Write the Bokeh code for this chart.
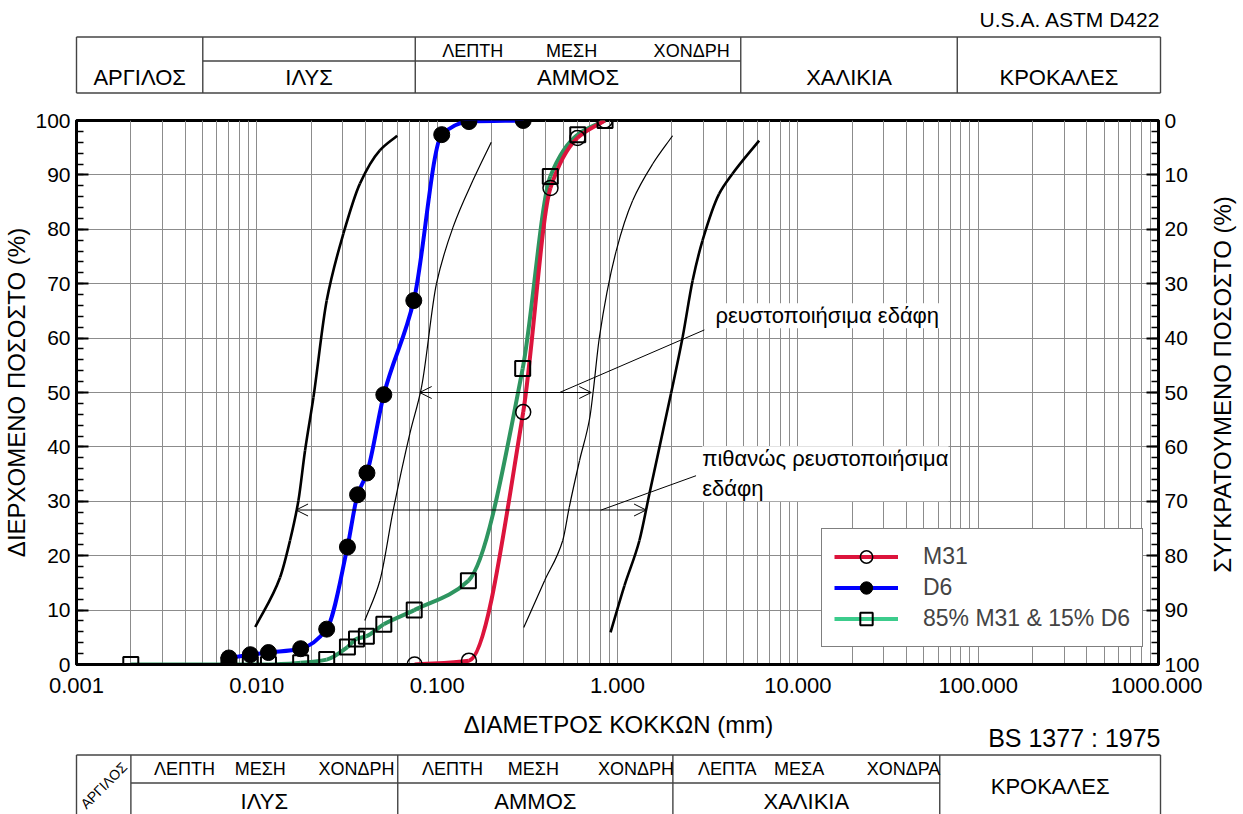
import math
import numpy as np
from bokeh.plotting import figure
from bokeh.layouts import column, row
from bokeh.models import (Range1d, LinearAxis, FixedTicker, PrintfTickFormatter,
                          Legend, LegendItem, Label, Arrow, OpenHead)
from bokeh.core.properties import value
from bokeh.embed import file_html
from bokeh.resources import INLINE

FONT = "Liberation Sans"

# ---------------- data ----------------
m31_d = [0.075, 0.150, 0.300, 0.425, 0.600, 0.850]
m31_p = [0.0, 0.7, 46.4, 87.6, 96.8, 100.0]

d6_d = [0.0070, 0.0092, 0.0116, 0.0175, 0.0244, 0.0318, 0.0362, 0.0408,
        0.0506, 0.0742, 0.106, 0.150, 0.300]
d6_p = [1.2, 1.8, 2.2, 2.9, 6.5, 21.6, 31.2, 35.2, 49.6, 66.9, 97.4, 99.8, 100.0]

mix_d = [0.002, 0.0070, 0.0092, 0.0116, 0.0175, 0.0244, 0.0318, 0.0357, 0.0405,
         0.0506, 0.0746, 0.149, 0.298, 0.424, 0.602, 0.853]
mix_p = [0.0, 0.0, 0.0, 0.0, 0.3, 0.9, 3.2, 4.7, 5.2, 7.4, 10.0, 15.4, 54.4,
         89.7, 97.4, 100.0]

# liquefaction boundary curves
thick_left_d = [0.0098, 0.01345, 0.01528, 0.0170, 0.0185, 0.0206, 0.0244, 0.0302,
                0.0373, 0.0481, 0.0600]
thick_left_p = [6.9, 16.0, 22.8, 30.1, 39.3, 49.1, 66.9, 79.2, 88.4, 94.5, 97.2]
thin_left_d = [0.0397, 0.0481, 0.0570, 0.0705, 0.0819, 0.0991, 0.1225, 0.158, 0.1995]
thin_left_p = [8.1, 15.4, 28.3, 42.4, 51.0, 70.0, 80.4, 89.0, 96.0]
thin_right_d = [0.302, 0.394, 0.497, 0.540, 0.616, 0.703, 0.732, 0.794, 0.983,
                1.214, 1.566, 2.02]
thin_right_p = [6.8, 15.4, 22.8, 28.9, 37.5, 45.5, 50.0, 60.2, 76.0, 85.3, 92.0, 97.2]
thick_right_d = [0.915, 1.093, 1.323, 1.503, 1.98, 2.298, 2.61, 2.96, 3.66, 4.34, 6.10]
thick_right_p = [5.9, 14.5, 22.8, 31.4, 49.8, 60.2, 70.6, 77.9, 86.5, 90.2, 96.3]

# annotation arrows (d_from, d_to, percent)
liq_arrow = (0.080, 0.715, 50.0)
poss_arrow = (0.0165, 1.44, 28.4)
liq_text = "ρευστοποιήσιμα εδάφη"
poss_text = "πιθανώς ρευστοποιήσιμα\nεδάφη"

x_ticks = [0.001, 0.01, 0.1, 1.0, 10.0, 100.0, 1000.0]
y_ticks = list(range(0, 101, 10))
y_minor = list(range(0, 101, 2))

x_title = "ΔΙΑΜΕΤΡΟΣ ΚΟΚΚΩΝ (mm)"
y_title = "ΔΙΕΡΧΟΜΕΝΟ ΠΟΣΟΣΤΟ (%)"
y2_title = "ΣΥΓΚΡΑΤΟΥΜΕΝΟ ΠΟΣΟΣΤΟ (%)"

# classification tables
astm_bounds = [0.001, 0.005, 0.075, 4.75, 75.0, 1000.0]
astm_main = ["ΑΡΓΙΛΟΣ", "ΙΛΥΣ", "ΑΜΜΟΣ", "ΧΑΛΙΚΙΑ", "ΚΡΟΚΑΛΕΣ"]
astm_sub = ["ΛΕΠΤΗ", "ΜΕΣΗ", "ΧΟΝΔΡΗ"]
astm_sub_d = [0.156, 0.55, 2.54]
bs_bounds = [0.001, 0.002, 0.06, 2.0, 60.0, 1000.0]
bs_main = ["ΙΛΥΣ", "ΑΜΜΟΣ", "ΧΑΛΙΚΙΑ"]
bs_sub = ["ΛΕΠΤΗ", "ΜΕΣΗ", "ΧΟΝΔΡΗ", "ΛΕΠΤΗ", "ΜΕΣΗ", "ΧΟΝΔΡΗ", "ΛΕΠΤΑ", "ΜΕΣΑ", "ΧΟΝΔΡΑ"]
bs_sub_d = [0.00396, 0.0104, 0.0355, 0.1206, 0.338, 1.25, 4.0, 10.0, 37.8]

RED = "#dc143c"
BLUE = "#0000ff"
GREEN = "#2e9560"
GREEN_LEG = "#3ccc8c"
GRID = "#8c8c8c"
TABLE = "#444444"

# ---------------- geometry (page pixels) ----------------
W = 1243
FL, FR = 76, 1160            # frame left / right
FT, FB = 120, 664            # frame top / bottom
TOP_H = 96                   # top table figure: 0..96
MAIN_BOT = 706               # main figure: 96..706
H_MAIN = MAIN_BOT - TOP_H
H_BOT = 814 - MAIN_BOT       # bottom figure: 706..814
PW = FR + 42                 # main figure width
PXDEC = (FR - FL) / 6.0
# table figures use the whole width as frame, same log mapping as the plot
XLO, XHI = 10 ** (-3 - FL / PXDEC), 10 ** (3 + (W - FR) / PXDEC)


def gmid(a, b):
    return math.sqrt(a * b)


def smooth_segments(xs, ys):
    lx = np.log10(np.asarray(xs, float))
    y = np.asarray(ys, float)
    h = np.diff(lx)
    d = np.diff(y) / h
    n = len(lx)
    m = np.zeros(n)
    m[0], m[-1] = d[0], d[-1]
    for i in range(1, n - 1):
        if d[i - 1] * d[i] <= 0:
            m[i] = 0.0
        else:
            w1 = 2 * h[i] + h[i - 1]
            w2 = h[i] + 2 * h[i - 1]
            m[i] = (w1 + w2) / (w1 / d[i - 1] + w2 / d[i])
    return dict(x0=10 ** lx[:-1], y0=y[:-1], x1=10 ** lx[1:], y1=y[1:],
                cx0=10 ** (lx[:-1] + h / 3), cy0=y[:-1] + m[:-1] * h / 3,
                cx1=10 ** (lx[1:] - h / 3), cy1=y[1:] - m[1:] * h / 3)


def blank_fig(width, height, xr, yr, log=False):
    f = figure(width=width, height=height, title=None, x_range=xr, y_range=yr,
               x_axis_type="log" if log else "linear",
               x_axis_location=None, y_axis_location=None,
               output_backend="svg", toolbar_location=None,
               min_border_left=0, min_border_right=0,
               min_border_top=0, min_border_bottom=0)
    f.grid.visible = False
    f.outline_line_color = None
    f.background_fill_color = "white"
    f.border_fill_color = "white"
    return f


# ---------------- main plot ----------------
p = figure(width=PW, height=H_MAIN, title=None, x_axis_type="log",
           x_range=Range1d(0.001, 1000), y_range=Range1d(0, 100),
           output_backend="svg", toolbar_location=None,
           min_border_left=FL, min_border_right=PW - FR,
           min_border_top=FT - TOP_H, min_border_bottom=MAIN_BOT - FB)
p.outline_line_color = "black"
p.outline_line_width = 3
p.background_fill_color = "white"
p.border_fill_color = "white"

minor_x = [k * 10.0 ** e for e in range(-3, 3) for k in range(2, 10)]
p.xaxis.ticker = FixedTicker(ticks=x_ticks, minor_ticks=minor_x)
p.xaxis.formatter = PrintfTickFormatter(format="%.3f")
p.yaxis.ticker = FixedTicker(ticks=y_ticks, minor_ticks=y_minor)

p.xgrid.grid_line_color = GRID
p.xgrid.minor_grid_line_color = GRID
p.ygrid.grid_line_color = GRID

p.extra_y_ranges = {"ret": Range1d(100, 0)}
ra = LinearAxis(y_range_name="ret", ticker=FixedTicker(ticks=y_ticks, minor_ticks=y_minor))
p.add_layout(ra, "right")

xa = p.xaxis[0]
ya = p.yaxis[0]
ya.axis_label = y_title
for ax in (xa, ya, ra):
    ax.axis_line_color = "black"
    ax.axis_line_width = 3
    ax.major_label_text_font = FONT
    ax.major_label_text_font_size = "21px"
    ax.major_label_text_color = "black"
    ax.axis_label_text_font = FONT
    ax.axis_label_text_font_size = "24px"
    ax.axis_label_text_font_style = "normal"
    ax.axis_label_text_color = "black"
    ax.major_tick_out = 0
    ax.minor_tick_out = 0
for ax in (ya, ra):
    ax.major_tick_in = 12
    ax.minor_tick_in = 7
    ax.major_tick_line_width = 2
    ax.minor_tick_line_width = 1.5
    ax.major_tick_line_color = "black"
    ax.minor_tick_line_color = "black"
    ax.major_label_standoff = 6
xa.major_label_text_font_size = "22px"
xa.major_tick_in = 0
xa.minor_tick_in = 0
xa.major_label_standoff = 13
ya.axis_label_standoff = 2

# boundary curves
for xs, ys, lw in ((thick_left_d, thick_left_p, 2.6), (thick_right_d, thick_right_p, 2.6),
                   (thin_left_d, thin_left_p, 1.2), (thin_right_d, thin_right_p, 1.2)):
    p.bezier(**smooth_segments(xs, ys), line_color="black", line_width=lw)

# series curves
p.bezier(**smooth_segments(mix_d, mix_p), line_color=GREEN, line_width=4)
p.bezier(**smooth_segments(m31_d, m31_p), line_color=RED, line_width=4)
p.bezier(**smooth_segments(d6_d, d6_p), line_color=BLUE, line_width=4)

# legend line proxies (a single point draws nothing on the plot)
leg_red = p.line(x=m31_d[:1], y=m31_p[:1], line_color=RED, line_width=4)
leg_blue = p.line(x=d6_d[:1], y=d6_p[:1], line_color=BLUE, line_width=4)
leg_green = p.line(x=mix_d[:1], y=mix_p[:1], line_color=GREEN_LEG, line_width=4)

sq = p.scatter(mix_d, mix_p, marker="square", size=15, fill_color=None,
               line_color="black", line_width=2)
oc = p.scatter(m31_d, m31_p, marker="circle", size=15, fill_color=None,
               line_color="black", line_width=1.5)
fc = p.scatter(d6_d, d6_p, marker="circle", size=16, fill_color="black",
               line_color="black")

# annotations
for (a, b, yv) in (liq_arrow, poss_arrow):
    p.add_layout(Arrow(start=OpenHead(size=12, line_width=1, line_color="black"),
                       end=OpenHead(size=12, line_width=1, line_color="black"),
                       x_start=a, y_start=yv, x_end=b, y_end=yv,
                       line_color="black", line_width=1))
p.segment(x0=[0.4775, 0.812], y0=[50.0, 28.4], x1=[3.03, 2.726], y1=[61.5, 34.7],
          line_color="black", line_width=1)
p.add_layout(Label(x=3.49, y=66.4, text=liq_text, text_font=FONT, text_font_size="22px",
                   text_align="left", text_baseline="top", text_color="black",
                   background_fill_color="white"))
p.add_layout(Label(x=2.95, y=40.1, text=poss_text, text_font=FONT, text_font_size="22px",
                   text_align="left", text_baseline="top", text_color="black",
                   background_fill_color="white"))

legend = Legend(items=[LegendItem(label="M31", renderers=[leg_red, oc]),
                       LegendItem(label="D6", renderers=[leg_blue, fc]),
                       LegendItem(label="85% M31 & 15% D6", renderers=[leg_green, sq])],
                location=(745, 17), margin=0, padding=12, spacing=0,
                glyph_width=64, glyph_height=31, label_height=31, label_standoff=25,
                label_text_font=FONT, label_text_font_size="23px",
                border_line_color="black", border_line_width=1,
                background_fill_color="white", background_fill_alpha=1.0)
p.add_layout(legend)

# right axis title (own narrow figure so it can read bottom-to-top)
fr = blank_fig(W - PW, H_MAIN, Range1d(0, W - PW), Range1d(0, H_MAIN))
fr.text(x=[1222 - PW], y=[MAIN_BOT - (FT + FB) / 2], text=[y2_title], angle=math.pi / 2,
        text_font=value(FONT), text_font_size="24px", text_align="center",
        text_baseline="middle", text_color="black")

# ---------------- top table (ASTM) ----------------
ft = blank_fig(W, TOP_H, Range1d(XLO, XHI), Range1d(TOP_H, 0), log=True)
ft.segment(x0=[astm_bounds[0], astm_bounds[0], astm_bounds[1]], y0=[36.5, 92.5, 60.5],
           x1=[astm_bounds[-1], astm_bounds[-1], astm_bounds[3]], y1=[36.5, 92.5, 60.5],
           line_color=TABLE, line_width=1.4)
ft.segment(x0=astm_bounds, y0=[36.5] * len(astm_bounds), x1=astm_bounds,
           y1=[92.5] * len(astm_bounds), line_color=TABLE, line_width=1.4)
ft.text(x=[gmid(astm_bounds[i], astm_bounds[i + 1]) for i in range(5)], y=[77] * 5,
        text=astm_main, text_font=value(FONT), text_font_size="22px",
        text_align="center", text_baseline="middle", text_color="black")
ft.text(x=astm_sub_d, y=[50] * 3, text=astm_sub, text_font=value(FONT),
        text_font_size="18px", text_align="center", text_baseline="middle", text_color="black")
ft.text(x=[astm_bounds[-1]], y=[19], text=["U.S.A. ASTM D422"], text_font=value(FONT),
        text_font_size="21px", text_align="right", text_baseline="middle", text_color="black")

# ---------------- bottom: x title + BS table ----------------
fb = blank_fig(W, H_BOT, Range1d(XLO, XHI), Range1d(H_BOT, 0), log=True)
fb.text(x=[1.0], y=[724 - MAIN_BOT], text=[x_title], text_font=value(FONT),
        text_font_size="24px", text_align="center", text_baseline="middle", text_color="black")
fb.text(x=[bs_bounds[-1]], y=[737 - MAIN_BOT], text=["BS 1377 : 1975"], text_font=value(FONT),
        text_font_size="25px", text_align="right", text_baseline="middle", text_color="black")
t0, t1 = 754.5 - MAIN_BOT, 782.5 - MAIN_BOT
fb.segment(x0=[bs_bounds[0], bs_bounds[1]], y0=[t0, t1],
           x1=[bs_bounds[-1], bs_bounds[4]], y1=[t0, t1],
           line_color=TABLE, line_width=1.4)
fb.segment(x0=bs_bounds, y0=[t0] * len(bs_bounds), x1=bs_bounds,
           y1=[H_BOT + 5] * len(bs_bounds), line_color=TABLE, line_width=1.4)
fb.text(x=[gmid(bs_bounds[i], bs_bounds[i + 1]) for i in (1, 2, 3)], y=[801 - MAIN_BOT] * 3,
        text=bs_main, text_font=value(FONT), text_font_size="22px",
        text_align="center", text_baseline="middle", text_color="black")
fb.text(x=[gmid(bs_bounds[4], bs_bounds[5])], y=[786 - MAIN_BOT], text=["ΚΡΟΚΑΛΕΣ"],
        text_font=value(FONT), text_font_size="22px", text_align="center",
        text_baseline="middle", text_color="black")
fb.text(x=bs_sub_d, y=[768.5 - MAIN_BOT] * len(bs_sub), text=bs_sub, text_font=value(FONT),
        text_font_size="18px", text_align="center", text_baseline="middle", text_color="black")
fb.text(x=[gmid(bs_bounds[0], bs_bounds[1])], y=[785 - MAIN_BOT], text=["ΑΡΓΙΛΟΣ"],
        angle=math.pi / 4, text_font=value(FONT), text_font_size="14px",
        text_align="center", text_baseline="middle", text_color="black")

layout = column(ft, row(p, fr, spacing=0), fb, spacing=0)
open("out.html", "w").write(file_html(layout, INLINE))
